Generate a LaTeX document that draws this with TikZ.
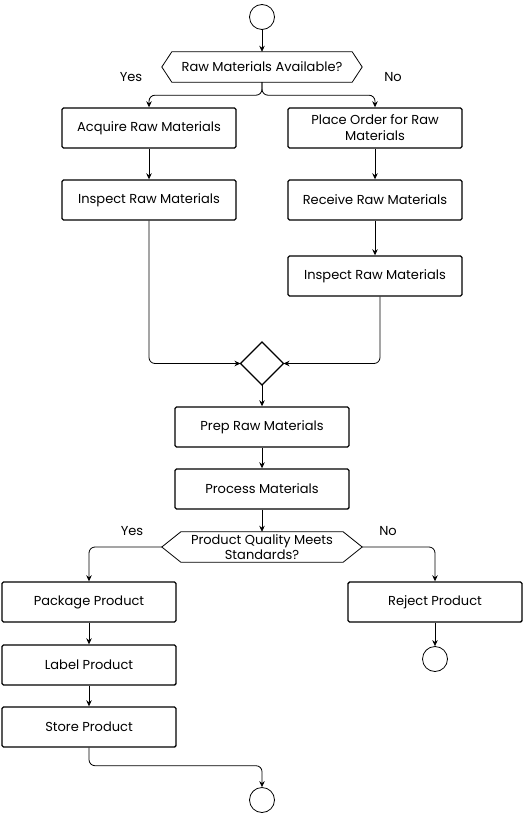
\documentclass[tikz,border=0pt]{standalone}
\usepackage{fontspec}
\setmainfont{Poppins}
\usetikzlibrary{arrows.meta, calc}

\tikzset{
	box/.style={draw, line width=1.4pt, rounded corners=1.5pt, minimum width=174pt, minimum height=40pt, align=center, inner sep=2pt, font=\fontsize{13}{16}\selectfont},
	ends/.style={draw, circle, line width=0.8pt, minimum size=25pt, inner sep=0pt},
	quest/.style={minimum width=200pt, minimum height=30pt, align=center, inner sep=0pt, font=\fontsize{13}{15}\selectfont},
	flow/.style={line width=0.8pt, -{Stealth[length=6pt, width=5.5pt]}, rounded corners=6pt},
	tag/.style={font=\fontsize{13}{15}\selectfont}
}

\begin{document}
\begin{tikzpicture}[x=1pt, y=-1pt]

	\useasboundingbox (0,0) rectangle (523,813);

	\node[ends] (start) at (262,17) {};
	\node[quest] (q1) at (262,67) {Raw Materials Available?};
	\draw[line width=0.8pt] (q1.west) -- ($(q1.north west)+(10,0)$) -- ($(q1.north east)+(-10,0)$) -- (q1.east) -- ($(q1.south east)+(-10,0)$) -- ($(q1.south west)+(10,0)$) -- cycle;
	\node[tag] (yes1) at (131,77) {Yes};
	\node[tag] (no1) at (393,77) {No};

	\node[box] (acquire) at (149,128) {Acquire Raw Materials};
	\node[box] (order) at (375,128) {Place Order for Raw\\Materials};
	\node[box] (inspectl) at (149,200) {Inspect Raw Materials};
	\node[box] (receive) at (375,200) {Receive Raw Materials};
	\node[box] (inspectr) at (375,276) {Inspect Raw Materials};

	\draw[line width=1.4pt] (262,342) coordinate (mt) -- (283.5,363.5) coordinate (me) -- (262,385) coordinate (mb) -- (240.5,363.5) coordinate (mw) -- cycle;

	\node[box] (prep) at (262,427) {Prep Raw Materials};
	\node[box] (process) at (262,489) {Process Materials};

	\node[quest] (q2) at (262,547) {Product Quality Meets\\Standards?};
	\draw[line width=0.8pt] (q2.west) -- ($(q2.north west)+(19,0)$) -- ($(q2.north east)+(-19,0)$) -- (q2.east) -- ($(q2.south east)+(-19,0)$) -- ($(q2.south west)+(19,0)$) -- cycle;
	\node[tag] (yes2) at (132,531) {Yes};
	\node[tag] (no2) at (388,531) {No};

	\node[box] (package) at (89,602) {Package Product};
	\node[box] (reject) at (435,602) {Reject Product};
	\node[box] (label) at (89,665) {Label Product};
	\node[box] (store) at (89,727) {Store Product};

	\node[ends] (stopr) at (435,659) {};
	\node[ends] (stopl) at (262,800) {};


	\draw[flow] (start) -- (q1.north);
	\draw[flow] (q1.south) -- ++(0,13) -| (acquire.north);
	\draw[flow] (q1.south) -- ++(0,13) -| (order.north);
	\draw[flow] (acquire) -- (inspectl);
	\draw[flow] (order) -- (receive);
	\draw[flow] (receive) -- (inspectr);
	\draw[flow] (inspectl.south) |- (mw);
	\draw[flow] ([xshift=5pt]inspectr.south) |- (me);
	\draw[flow] (mb) -- (prep.north);
	\draw[flow] (prep) -- (process);
	\draw[flow] (process.south) -- (q2.north);
	\draw[flow] (q2.west) -| (package.north);
	\draw[flow] (q2.east) -| (reject.north);
	\draw[flow] (package) -- (label);
	\draw[flow] (label) -- (store);
	\draw[flow] (reject) -- (stopr);
	\draw[flow] (store.south) -- ++(0,18) -| (stopl.north);

\end{tikzpicture}
\end{document}
